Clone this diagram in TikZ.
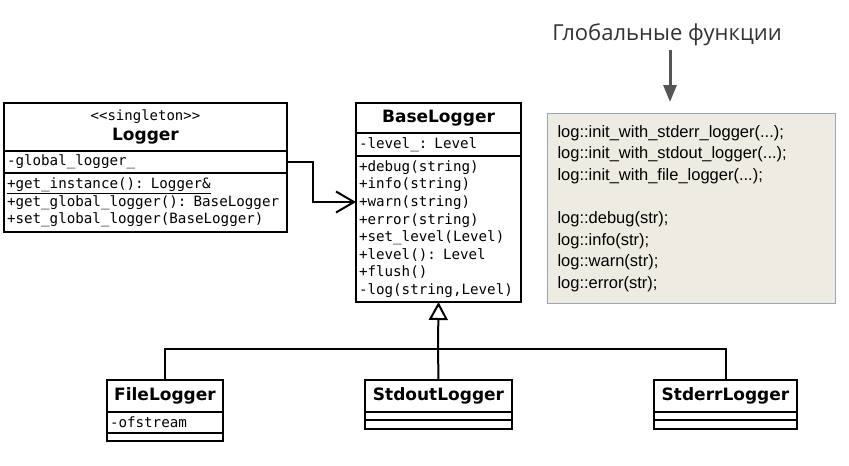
\documentclass[tikz,border=0pt]{standalone}
\usepackage{fontspec}
\setmainfont{DejaVu Sans}
\setmonofont{DejaVu Sans Mono}
\newfontfamily\funcfont{Liberation Sans}
\newfontfamily\headfont{Open Sans}
\usetikzlibrary{positioning,arrows.meta}
\definecolor{funcfill}{HTML}{EEEBE2}
\definecolor{funcborder}{HTML}{9AA6B6}
\definecolor{headgray}{HTML}{555555}
\tikzset{
    classname/.style={draw,line width=2.5pt,outer sep=0pt,inner sep=0pt,align=center,
        font=\bfseries\fontsize{17}{20}\selectfont},
    members/.style={draw,line width=2.5pt,outer sep=0pt,inner xsep=3pt,inner ysep=0pt,
        align=left,text width=#1,font=\ttfamily\fontsize{14.2}{17.4}\selectfont},
}
\begin{document}
\begin{tikzpicture}[x=1pt,y=-1pt]
        \path[use as bounding box,fill=white] (0,0) rectangle (849,466);
        \begin{scope}
            \node (logger) [classname,minimum width=283,minimum height=48,anchor=north west] at (4,103)
                {{\ttfamily\mdseries\fontsize{14}{17}\selectfont <<singleton>>}\\Logger};
            \node (loggerattr) [members=277,minimum height=22,below=0pt of logger] {-global\_logger\_};
            \node (loggerops) [members=277,minimum height=59,below=0pt of loggerattr]
                {\underline{+get\_instance(): Logger\&}\\+get\_global\_logger(): BaseLogger\\+set\_global\_logger(BaseLogger)};
            \node (base) [classname,minimum width=165,minimum height=30,anchor=north west] at (356,103) {BaseLogger};
            \node (baseattr) [members=159,minimum height=23,below=0pt of base] {-level\_: Level};
            \node (baseops) [members=159,minimum height=146,below=0pt of baseattr,
                font=\ttfamily\fontsize{14.2}{17.6}\selectfont]
                {+debug(string)\\+info(string)\\+warn(string)\\+error(string)\\+set\_level(Level)\\+level(): Level\\+flush()\\-log(string,Level)};
            \node (file) [classname,minimum width=116,minimum height=32,anchor=north west] at (107,380) {FileLogger};
            \node (fileattr) [members=110,minimum height=21,below=0pt of file] {-ofstream};
            \node (fileops) [members=110,minimum height=8,below=0pt of fileattr] {};
            \node (stdout) [classname,minimum width=147,minimum height=32,anchor=north west] at (365,380) {StdoutLogger};
            \node (stdoutattr) [members=141,minimum height=8,below=0pt of stdout] {};
            \node (stdoutops) [members=141,minimum height=9,below=0pt of stdoutattr] {};
            \node (stderr) [classname,minimum width=143,minimum height=32,anchor=north west] at (654,380) {StderrLogger};
            \node (stderrattr) [members=137,minimum height=8,below=0pt of stderr] {};
            \node (stderrops) [members=137,minimum height=9,below=0pt of stderrattr] {};
        \end{scope}
        \node (heading) [text=black!80,font=\headfont\fontsize{22}{26}\selectfont] at (667,35) {Глобальные функции};
        \node (funcs) [draw=funcborder,fill=funcfill,line width=1pt,anchor=north west,minimum height=190,
            inner xsep=10pt,text width=268,align=left,font=\funcfont\fontsize{16.5}{21.6}\selectfont] at (547,113)
            {log::init\_with\_stderr\_logger(...);\\log::init\_with\_stdout\_logger(...);\\log::init\_with\_file\_logger(...);\\[21.6pt]
             log::debug(str);\\log::info(str);\\log::warn(str);\\log::error(str);};
        \coordinate (branch) at (438,349);
        \coordinate (funcstip) at (670,102);
        \begin{scope}[line width=2pt]
            \draw [-{Straight Barb[length=18pt,width=21pt]}] (loggerattr.east) -- ++(26,0) |- ([yshift=27pt]baseops.west);
            \draw [-{Triangle[open,length=18pt,width=19pt,fill=white]}] (branch) -- (baseops.south);
            \draw (file.north) |- (branch) -| (stderr.north);
            \draw (stdout.north) -- (branch);
        \end{scope}
        \draw [headgray,line width=3pt,-{Triangle[length=17pt,width=13pt]}] (heading.south -| funcstip) -- (funcstip);
    \end{tikzpicture}
\end{document}
